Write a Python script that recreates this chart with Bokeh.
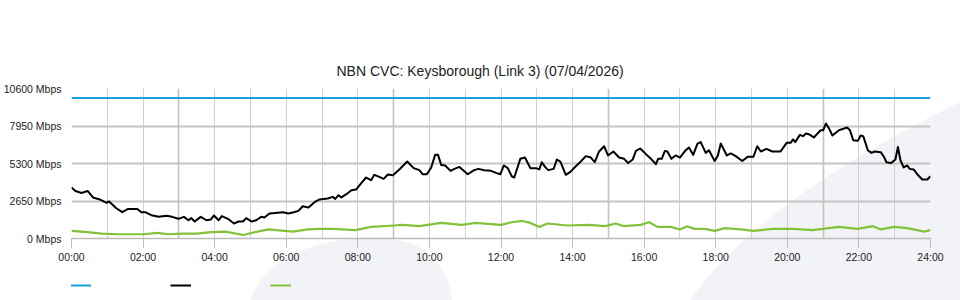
import base64
from bokeh.plotting import figure
from bokeh.layouts import column
from bokeh.models import (Range1d, FixedTicker, Grid, Title, Legend, LegendItem,
                          InlineStyleSheet)
from bokeh.embed import file_html
from bokeh.resources import INLINE

TITLE = "NBN CVC: Keysborough (Link 3) (07/04/2026)"

y_ticks = [0, 2650, 5300, 7950, 10600]
y_tick_labels = [f"{v} Mbps" for v in y_ticks]
x_ticks = list(range(0, 25, 2))
x_tick_labels = [f"{h:02d}:00" for h in x_ticks]
grid_hours = list(range(0, 25))
major_grid_hours = [3, 9, 15, 21]

capacity_hours = [0, 24]
capacity_mbps = [9920, 9920]

black_hours = [
    0.00, 0.11, 0.28, 0.45, 0.60, 0.79, 0.98, 1.05, 1.26, 1.42, 1.58, 1.84, 1.95,
    2.06, 2.23, 2.44, 2.65, 2.81, 2.99, 3.14, 3.27, 3.35, 3.44, 3.61, 3.77, 3.89,
    3.98, 4.11, 4.20, 4.37, 4.54, 4.67, 4.79, 4.88, 5.04, 5.16, 5.30, 5.39, 5.53,
    5.69, 5.91, 6.06, 6.21, 6.34, 6.46, 6.62, 6.79, 6.93, 7.16, 7.30, 7.37, 7.46,
    7.54, 7.68, 7.82, 7.95, 8.09, 8.23, 8.37, 8.46, 8.60, 8.72, 8.84, 8.98, 9.16,
    9.38, 9.56, 9.72, 9.81, 9.93, 10.05, 10.16, 10.24, 10.33, 10.44, 10.59, 10.70,
    10.84, 11.07, 11.25, 11.37, 11.53, 11.72, 11.86, 11.98, 12.08, 12.19, 12.30,
    12.37, 12.54, 12.67, 12.82, 12.98, 13.07, 13.14, 13.23, 13.32, 13.47, 13.56,
    13.66, 13.81, 13.93, 14.09, 14.23, 14.37, 14.51, 14.62, 14.74, 14.88, 14.99,
    15.14, 15.30, 15.44, 15.55, 15.68, 15.77, 15.89, 16.05, 16.19, 16.33, 16.39,
    16.49, 16.58, 16.65, 16.76, 16.88, 17.00, 17.16, 17.25, 17.37, 17.49, 17.58,
    17.72, 17.81, 17.97, 18.06, 18.14, 18.31, 18.42, 18.56, 18.74, 18.89, 19.05,
    19.16, 19.26, 19.42, 19.58, 19.81, 19.98, 20.09, 20.16, 20.22, 20.35, 20.44,
    20.52, 20.60, 20.74, 20.93, 21.00, 21.08, 21.16, 21.26, 21.44, 21.67, 21.75,
    21.84, 21.97, 22.05, 22.12, 22.25, 22.35, 22.44, 22.61, 22.70, 22.77, 22.90,
    23.02, 23.09, 23.16, 23.25, 23.35, 23.42, 23.53, 23.63, 23.77, 23.91, 24.00,
]
black_mbps = [
    3600, 3360, 3220, 3360, 2900, 2760, 2520, 2620, 2120, 1860, 2090, 2090, 1860,
    1860, 1650, 1530, 1600, 1530, 1390, 1530, 1290, 1440, 1200, 1530, 1290, 1340,
    1630, 1290, 1580, 1390, 1060, 1200, 1200, 1440, 1200, 1290, 1530, 1480, 1770,
    1810, 1860, 1770, 1860, 1950, 2280, 2190, 2570, 2760, 2830, 2940, 2800, 3060,
    2900, 3130, 3410, 3460, 3890, 4310, 4120, 4500, 4350, 4210, 4520, 4470, 4880,
    5440, 4970, 4830, 4540, 4540, 5020, 5910, 5910, 5200, 5160, 4780, 4920,
    5060, 4540, 4830, 4920, 4830, 4780, 4640, 4540, 5160, 4970, 4400,
    4310, 5630, 5720, 4970, 4970, 4880, 5390, 5060, 4830, 4920, 5580,
    5440, 4500, 4690, 5110, 5440, 5820, 5720, 5390, 6150, 6520, 5870,
    6150, 5720, 5630, 5340, 5580, 6190, 6360, 5960, 5630, 5250, 5630,
    5630, 6190, 6150, 5630, 5870, 5720, 6240, 6430, 5910, 6710, 6810,
    6050, 6240, 5480, 5870, 6710, 5870, 6010, 5820, 5480, 5770, 5770,
    6520, 6150, 6330, 6150, 6150, 6760, 6760, 7000, 6810, 7320, 7230,
    7420, 7370, 7140, 7650, 7650, 8130, 7800, 7280, 7650, 7840, 7650,
    6950, 6900, 7280, 7230, 6240, 6050, 6150, 6100, 5770, 5390, 5340,
    5580, 6470, 5530, 5020, 5160, 4920, 4880, 4540, 4170, 4170, 4400,
]

green_hours = [
    0.00, 0.45, 0.85, 1.30, 2.00, 2.40, 2.70, 3.10, 3.50, 3.90, 4.30, 4.80, 5.20,
    5.50, 5.95, 6.20, 6.60, 6.93, 7.30, 7.93, 8.37, 9.02, 9.25, 9.72, 10.33, 10.90,
    11.30, 12.00, 12.30, 12.60, 12.82, 13.07, 13.30, 13.85, 14.45, 14.91, 15.20,
    15.44, 15.90, 16.14, 16.37, 16.74, 17.00, 17.20, 17.40, 17.70, 17.97, 18.25,
    18.70, 19.05, 19.60, 20.16, 20.70, 21.44, 21.95, 22.40, 22.61, 22.98, 23.35,
    23.63, 23.81, 24.00,
]
green_mbps = [
    540, 450, 350, 300, 300, 400, 300, 350, 350, 450, 490, 250, 490,
    640, 540, 490, 640, 680, 680, 590, 820, 920, 960, 870, 1100, 960,
    1100, 960, 1150, 1240, 1100, 820, 1060, 920, 960, 870, 1060,
    870, 960, 1150, 820, 820, 640, 870, 680, 680, 540, 730,
    640, 540, 680, 680, 590, 820, 680, 870, 640, 820, 730,
    590, 490, 590,
]

FONT = "Liberation Sans"
BLUE = "#1c9fe0"
BLACK = "#000000"
GREEN = "#82c13a"

# decorative watermark behind the chart (page background, not data)
watermark_svg = (
    '<svg xmlns="http://www.w3.org/2000/svg" width="960" height="300" '
    'viewBox="0 0 960 300">'
    '<path d="M690 300 Q760 200 960 102 L960 300 Z" fill="#f2f3f6"/>'
    '<path d="M250 300 C270 250 330 238 370 238 C420 238 445 255 452 300 Z" '
    'fill="#f2f3f6"/></svg>'
)
wm = base64.b64encode(watermark_svg.encode()).decode()
bg_css = InlineStyleSheet(css=(
    ":host { background-color: white; "
    f"background-image: url('data:image/svg+xml;base64,{wm}'); "
    "background-repeat: no-repeat; background-position: 0 0; }"
))

p = figure(width=960, height=270, output_backend="svg", toolbar_location=None,
           x_range=Range1d(0, 24), y_range=Range1d(0, 10600),
           min_border_left=70, min_border_right=30, min_border_top=88,
           min_border_bottom=32, outline_line_color=None,
           background_fill_color=None, border_fill_color=None,
           title=None)

p.add_layout(Title(text=TITLE, align="left", offset=265,
                   vertical_align="bottom", standoff=20,
                   text_font=FONT, text_font_size="14px",
                   text_font_style="normal", text_color="#222222"), "above")

# axes
p.xaxis.ticker = FixedTicker(ticks=x_ticks)
p.xaxis.major_label_overrides = dict(zip(x_ticks, x_tick_labels))
p.xaxis.axis_line_color = "#bbbbbb"
p.xaxis.axis_line_width = 1.5
p.xaxis.major_tick_line_color = "#bbbbbb"
p.xaxis.major_tick_in = 0
p.xaxis.major_tick_out = 9
p.xaxis.minor_tick_line_color = None
p.xaxis.major_label_standoff = 3
p.xaxis.major_label_text_font = FONT
p.xaxis.major_label_text_font_size = "10.5px"
p.xaxis.major_label_text_color = "#222222"

p.yaxis.ticker = FixedTicker(ticks=y_ticks)
p.yaxis.major_label_overrides = dict(zip(y_ticks, y_tick_labels))
p.yaxis.axis_line_color = None
p.yaxis.major_tick_line_color = None
p.yaxis.minor_tick_line_color = None
p.yaxis.major_tick_in = 0
p.yaxis.major_tick_out = 0
p.yaxis.major_label_standoff = 10
p.yaxis.major_label_text_font = FONT
p.yaxis.major_label_text_font_size = "10.5px"
p.yaxis.major_label_text_color = "#222222"

# grids
minor_hours = [h for h in grid_hours if h not in major_grid_hours]
p.xgrid.ticker = FixedTicker(ticks=minor_hours)
p.xgrid.grid_line_color = "#d0d0d0"
p.xgrid.grid_line_width = 1
p.add_layout(Grid(dimension=0, ticker=FixedTicker(ticks=major_grid_hours),
                  grid_line_color="#c2c2c2", grid_line_width=1.6))
p.ygrid.ticker = FixedTicker(ticks=y_ticks[1:])
p.ygrid.grid_line_color = "#c4c4c4"
p.ygrid.grid_line_width = 2

# series
p.line(capacity_hours, capacity_mbps, line_color=BLUE, line_width=2)
p.line(black_hours, black_mbps, line_color=BLACK, line_width=2,
       line_join="round")
p.line(green_hours, green_mbps, line_color=GREEN, line_width=2.2,
       line_join="round")

# legend strip (label-less keys, as in the original).  The key renderers carry
# the same series but their y range keeps the data out of view, so only the
# legend swatches show.
lg = figure(width=960, height=30, output_backend="svg", toolbar_location=None,
            x_range=Range1d(0, 24), y_range=Range1d(-2, -1),
            min_border=0, outline_line_color=None,
            background_fill_color=None, border_fill_color=None,
            x_axis_location=None, y_axis_location=None)
lg.grid.visible = False
k_cap = lg.line(capacity_hours, capacity_mbps, line_color=BLUE, line_width=2)
k_black = lg.line(black_hours, black_mbps, line_color=BLACK, line_width=2)
k_green = lg.line(green_hours, green_mbps, line_color=GREEN, line_width=2)
legend = Legend(items=[LegendItem(label="", renderers=[k_cap]),
                       LegendItem(label="", renderers=[k_black]),
                       LegendItem(label="", renderers=[k_green])],
                orientation="horizontal", location=(-1, 12),
                glyph_width=21, glyph_height=6, label_standoff=0,
                label_width=0, label_height=0, label_text_font_size="1px",
                spacing=79, padding=0, margin=0,
                border_line_color=None, background_fill_alpha=0)
lg.add_layout(legend)

layout = column(p, lg, spacing=0)
layout.stylesheets = [bg_css]

open("out.html", "w").write(file_html(layout, INLINE))
